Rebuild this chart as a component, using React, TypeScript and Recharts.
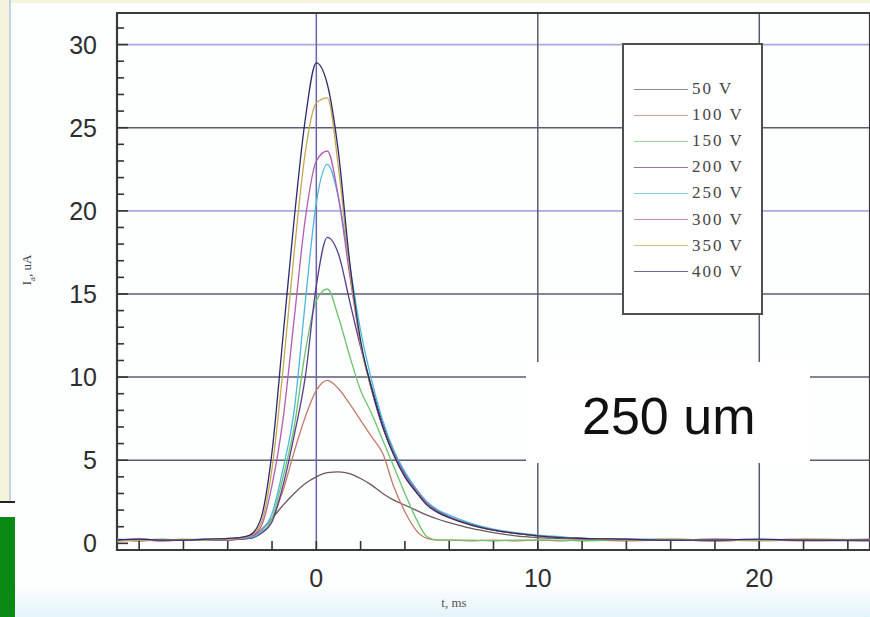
import React from "react";
import { LineChart, Line, XAxis, YAxis, CartesianGrid, ReferenceArea, Legend } from "recharts";

// time, ms
const T = [-9, -8, -7, -6, -5, -4, -3.5, -3, -2.5, -2, -1.5, -1, -0.5, 0, 0.5, 1, 1.5, 2, 2.5, 3, 3.5, 4, 4.5, 5, 5.5, 6, 7, 8, 9, 10, 11, 12, 14, 16, 18, 20, 22, 25];

// anode current, uA, one array per voltage
const V50 = [0.2, 0.15, 0.2, 0.2, 0.2, 0.25, 0.3, 0.35, 0.8, 1.5, 2.3, 3.0, 3.6, 4.0, 4.25, 4.3, 4.2, 3.9, 3.5, 3.0, 2.6, 2.3, 2.0, 1.7, 1.45, 1.25, 0.9, 0.65, 0.45, 0.35, 0.3, 0.25, 0.2, 0.2, 0.15, 0.2, 0.2, 0.15];
const V100 = [0.15, 0.2, 0.15, 0.2, 0.2, 0.25, 0.3, 0.4, 0.8, 1.5, 3.2, 5.5, 7.6, 9.2, 9.8, 9.3, 8.4, 7.4, 6.4, 5.4, 3.4, 1.9, 0.8, 0.3, 0.2, 0.2, 0.15, 0.2, 0.15, 0.2, 0.15, 0.2, 0.15, 0.2, 0.15, 0.2, 0.15, 0.2];
const V150 = [0.2, 0.2, 0.25, 0.2, 0.2, 0.2, 0.25, 0.3, 0.6, 1.5, 4.0, 7.0, 11.5, 14.6, 15.3, 13.6, 11.3, 9.2, 7.8, 6.2, 4.6, 3.0, 1.5, 0.4, 0.2, 0.2, 0.2, 0.15, 0.2, 0.2, 0.2, 0.15, 0.2, 0.2, 0.2, 0.15, 0.2, 0.2];
const V200 = [0.2, 0.25, 0.2, 0.2, 0.2, 0.2, 0.25, 0.3, 0.6, 1.3, 3.5, 6.5, 10.0, 15.5, 18.4, 17.4, 14.6, 11.8, 9.4, 7.2, 5.5, 4.2, 3.2, 2.4, 1.95, 1.6, 1.15, 0.8, 0.6, 0.45, 0.35, 0.3, 0.2, 0.2, 0.25, 0.2, 0.2, 0.2];
const V250 = [0.25, 0.2, 0.2, 0.2, 0.2, 0.25, 0.3, 0.35, 0.7, 1.8, 4.5, 8.0, 14.5, 20.5, 22.8, 20.8, 16.8, 12.8, 9.8, 7.4, 5.6, 4.3, 3.3, 2.5, 2.0, 1.7, 1.2, 0.85, 0.65, 0.5, 0.4, 0.3, 0.25, 0.25, 0.2, 0.2, 0.25, 0.2];
const V300 = [0.2, 0.2, 0.15, 0.2, 0.25, 0.2, 0.3, 0.4, 1.0, 3.5, 7.5, 13.5, 19.5, 23.0, 23.6, 20.8, 16.2, 12.0, 9.2, 7.0, 5.4, 4.1, 3.2, 2.4, 1.9, 1.6, 1.1, 0.8, 0.6, 0.45, 0.35, 0.3, 0.25, 0.2, 0.2, 0.2, 0.2, 0.25];
const V350 = [0.15, 0.2, 0.2, 0.25, 0.2, 0.25, 0.3, 0.45, 1.2, 4.5, 10.5, 17.5, 23.5, 26.5, 26.8, 22.6, 16.6, 12.0, 9.2, 7.0, 5.3, 4.0, 3.1, 2.3, 1.85, 1.55, 1.1, 0.8, 0.6, 0.45, 0.35, 0.3, 0.2, 0.25, 0.2, 0.2, 0.25, 0.2];
const V400 = [0.2, 0.25, 0.2, 0.2, 0.25, 0.3, 0.35, 0.5, 1.5, 5.5, 12.5, 19.5, 25.5, 28.9, 27.6, 23.5, 17.0, 12.2, 9.3, 7.0, 5.3, 4.0, 3.1, 2.3, 1.85, 1.55, 1.1, 0.8, 0.6, 0.45, 0.35, 0.3, 0.25, 0.2, 0.2, 0.25, 0.2, 0.2];

const KEYS = ["v50", "v100", "v150", "v200", "v250", "v300", "v350", "v400"];
const NAMES = ["50 V", "100 V", "150 V", "200 V", "250 V", "300 V", "350 V", "400 V"];
const VALUES = [V50, V100, V150, V200, V250, V300, V350, V400];
const COLORS = ["#6e5656", "#c27a6a", "#6cc46c", "#5a3c8c", "#4cb8dc", "#b45cb4", "#c8a84c", "#2c2c6c"];

const X_TICKS = [-8, -6, -4, -2, 0, 2, 4, 6, 8, 10, 12, 14, 16, 18, 20, 22, 24];
const Y_TICKS = Array.from({ length: 32 }, (_, i) => i);
const GRID_BLUE = [20, 30];
const GRID_DARK = [5, 10, 15, 25];
const GRID_X_DARK = [10, 20];
const GRID_X_BLUE = [0];

const X_DOMAIN: [number, number] = [-9, 25];
const Y_DOMAIN: [number, number] = [-0.4, 31.9];

const rows = T.map((t, i) => {
  const r: Record<string, number> = { t };
  KEYS.forEach((k, j) => (r[k] = VALUES[j][i]));
  return r;
});

const tickFont = { fontFamily: "'Liberation Sans', Arial, sans-serif", fontSize: 25, fill: "#2e2e2e" };

function XTick(props: any) {
  const { x, y, payload } = props;
  const major = payload.value % 10 === 0;
  return (
    <g>
      <line x1={x} x2={x} y1={y} y2={y - 9} stroke="#333" strokeWidth={1.6} />
      {major && (
        <text x={x} y={y + 37} textAnchor="middle" {...tickFont}>
          {payload.value}
        </text>
      )}
    </g>
  );
}

function YTick(props: any) {
  const { x, y, payload } = props;
  const major = payload.value % 5 === 0;
  return (
    <g>
      <line x1={x} x2={x + (major ? 11 : 7)} y1={y} y2={y} stroke="#333" strokeWidth={1.6} />
      {major && (
        <text x={x - 20} y={y + 9} textAnchor="end" {...tickFont}>
          {payload.value}
        </text>
      )}
    </g>
  );
}

function LegendBox(props: any) {
  const payload = props.payload || [];
  return (
    <div
      style={{
        width: 141,
        height: 272,
        boxSizing: "border-box",
        border: "2px solid #505050",
        background: "#fff",
        paddingTop: 31,
      }}
    >
      {KEYS.map((k, i) => {
        const p = payload.find((e: any) => e.dataKey === k);
        return (
          <div key={k} style={{ display: "flex", alignItems: "center", height: 26.1 }}>
            <span
              style={{
                display: "inline-block",
                marginLeft: 10,
                width: 54,
                borderTop: `1.4px solid ${p ? p.color : COLORS[i]}`,
                opacity: 0.7,
              }}
            />
            <span
              style={{
                marginLeft: 4,
                fontFamily: "'Liberation Serif', 'Times New Roman', serif",
                fontSize: 17,
                letterSpacing: 2,
                color: "#444",
              }}
            >
              {NAMES[i]}
            </span>
          </div>
        );
      })}
    </div>
  );
}

export default function App() {
  return (
    <div
      style={{
        position: "absolute",
        left: 0,
        top: 0,
        width: 870,
        height: 617,
        overflow: "hidden",
        background: "linear-gradient(to bottom, #fdfefe 0px, #fdfefe 585px, #e4f3fa 617px)",
      }}
    >
      {/* slide remnants behind the chart */}
      <div style={{ position: "absolute", left: 0, top: 0, width: 870, height: 3, background: "#f6f3dc" }} />
      <div style={{ position: "absolute", left: 0, top: 0, width: 9, height: 501, background: "#f6f3dc" }} />
      <div style={{ position: "absolute", left: 9, top: 0, width: 2, height: 501, background: "#c3d3e6" }} />
      <div style={{ position: "absolute", left: 0, top: 501, width: 15, height: 2, background: "#222" }} />
      <div style={{ position: "absolute", left: 0, top: 517, width: 15, height: 100, background: "#0a8a14" }} />

      <div style={{ position: "absolute", left: 0, top: 0 }}>
        <LineChart width={870} height={617} data={rows} margin={{ top: 13, right: 0, bottom: 0, left: 0 }}>
          <CartesianGrid vertical={false} horizontalValues={GRID_BLUE} stroke="#a9a9e6" strokeWidth={1.8} />
          <CartesianGrid vertical={false} horizontalValues={GRID_DARK} stroke="#5c5c74" strokeWidth={1.5} />
          <CartesianGrid horizontal={false} verticalValues={GRID_X_DARK} stroke="#5c5c70" strokeWidth={1.5} />
          <CartesianGrid horizontal={false} verticalValues={GRID_X_BLUE} stroke="#6868aa" strokeWidth={1.5} />
          <XAxis
            dataKey="t"
            type="number"
            domain={X_DOMAIN}
            ticks={X_TICKS}
            interval={0}
            allowDataOverflow
            height={67}
            tickSize={0}
            tickMargin={0}
            tickLine={false}
            axisLine={false}
            tick={XTick}
          />
          <YAxis
            type="number"
            domain={Y_DOMAIN}
            ticks={Y_TICKS}
            interval={0}
            allowDataOverflow
            width={117}
            tickSize={0}
            tickMargin={0}
            tickLine={false}
            axisLine={false}
            tick={YTick}
          />
          <ReferenceArea
            x1={X_DOMAIN[0]}
            x2={X_DOMAIN[1]}
            y1={Y_DOMAIN[0]}
            y2={Y_DOMAIN[1]}
            fill="none"
            stroke="#3a3a3a"
            strokeWidth={2.2}
          />
          {KEYS.map((k, i) => (
            <Line
              key={k}
              dataKey={k}
              name={NAMES[i]}
              type="monotone"
              stroke={COLORS[i]}
              strokeWidth={1.3}
              dot={false}
              isAnimationActive={false}
            />
          ))}
          <Legend
            layout="vertical"
            align="center"
            verticalAlign="middle"
            content={LegendBox}
            wrapperStyle={{ left: 622, top: 43, width: 141 }}
          />
        </LineChart>
      </div>

      {/* sample label box */}
      <div style={{ position: "absolute", left: 526, top: 362, width: 284, height: 101, background: "#fff" }} />
      <div
        style={{
          position: "absolute",
          left: 582,
          top: 390,
          fontFamily: "'Liberation Sans', Arial, sans-serif",
          fontSize: 52,
          lineHeight: "52px",
          color: "#111",
          whiteSpace: "nowrap",
        }}
      >
        250 um
      </div>

      {/* axis titles */}
      <div
        style={{
          position: "absolute",
          left: 28,
          top: 270,
          transform: "translate(-50%, -50%) rotate(-90deg)",
          fontFamily: "'Liberation Serif', 'Times New Roman', serif",
          fontSize: 13,
          color: "#444",
          whiteSpace: "nowrap",
        }}
      >
        I<sub style={{ fontSize: 9 }}>a</sub>, uA
      </div>
      <div
        style={{
          position: "absolute",
          left: 454,
          top: 603,
          transform: "translate(-50%, -50%)",
          fontFamily: "'Liberation Serif', 'Times New Roman', serif",
          fontSize: 13,
          color: "#555",
          whiteSpace: "nowrap",
        }}
      >
        t, ms
      </div>
    </div>
  );
}
